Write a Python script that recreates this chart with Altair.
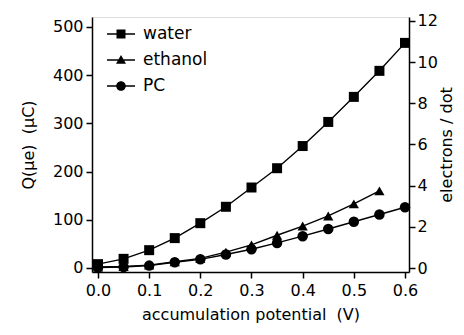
import altair as alt
import pandas as pd

potential = [0.0, 0.05, 0.1, 0.15, 0.2, 0.25, 0.3, 0.35, 0.4, 0.45, 0.5, 0.55, 0.6]
water = [8, 19, 37, 62, 93, 127, 167, 207, 253, 303, 355, 409, 467]
ethanol = [2, 3, 6, 13, 20, 33, 48, 68, 87, 108, 133, 160]
pc = [1, 2, 5, 12, 18, 28, 39, 52, 66, 81, 96, 111, 126]
series_names = ["water", "ethanol", "PC"]
x_ticks = [0.0, 0.1, 0.2, 0.3, 0.4, 0.5, 0.6]
left_ticks = [0, 100, 200, 300, 400, 500]
right_ticks = [0, 2, 4, 6, 8, 10, 12]

rows = []
for name, vals in zip(series_names, [water, ethanol, pc]):
    for xv, v in zip(potential, vals):
        rows.append({"V": xv, "Q": v, "series": name})
df = pd.DataFrame(rows)
right_df = pd.DataFrame({"e": right_ticks})

FONT = "DejaVu Sans"
FS = 16

xscale = alt.Scale(domain=[-0.0117, 0.6078], nice=False, zero=False)
yscale = alt.Scale(domain=[-8.3, 520.7], nice=False, zero=False)
rscale = alt.Scale(domain=[-0.194, 12.19], nice=False, zero=False)

axis_common = dict(grid=False, domainColor="black", domainWidth=1.5,
                   tickColor="black", tickWidth=1.5, tickSize=6,
                   labelFont=FONT, labelFontSize=FS, labelColor="black",
                   titleFont=FONT, titleFontSize=FS, titleColor="black",
                   titleFontWeight="normal")

xaxis = alt.Axis(values=x_ticks, format=".1f",
                 title="accumulation potential\u00a0 (V)",
                 labelPadding=4, titlePadding=8, **axis_common)
yaxis = alt.Axis(values=left_ticks, format="d",
                 title="Q(\u03bce)\u00a0 (\u03bcC)",
                 labelPadding=3, titlePadding=16, **axis_common)
raxis = alt.Axis(values=right_ticks, format="d", orient="right",
                 title="electrons / dot", titleAngle=270,
                 labelPadding=2, titlePadding=17, **axis_common)

x = alt.X("V:Q", scale=xscale, axis=xaxis)
y = alt.Y("Q:Q", scale=yscale, axis=yaxis)

lines = alt.Chart(df).mark_line(color="black", strokeWidth=1.4).encode(
    x=x, y=y, detail="series:N", order="V:Q")

points = alt.Chart(df).mark_point(filled=True, color="black", opacity=1).encode(
    x=x, y=y,
    shape=alt.Shape("series:N", scale=alt.Scale(domain=series_names,
                    range=["square", "triangle-up", "circle"]), legend=None),
    size=alt.Size("series:N", scale=alt.Scale(domain=series_names,
                  range=[100, 110, 80]), legend=None),
)

legend_paths = [
    "M-1.4,-0.07H1.4V0.07H-1.4ZM-0.45,-0.45H0.45V0.45H-0.45Z",
    "M-1.4,-0.07H1.4V0.07H-1.4ZM0,-0.5L0.5,0.38H-0.5Z",
    "M-1.4,-0.07H1.4V0.07H-1.4ZM-0.48,0A0.48,0.48 0 1,1 0.48,0A0.48,0.48 0 1,1 -0.48,0Z",
]

legend_layer = alt.Chart(df).mark_point(
    filled=True, color="black", opacity=0
).encode(
    x=x, y=y,
    shape=alt.Shape("series:N", scale=alt.Scale(domain=series_names, range=legend_paths),
                    legend=alt.Legend(orient="none", legendX=19, legendY=7, title=None,
                                      labelFont=FONT, labelFontSize=17, labelColor="black",
                                      symbolSize=400, symbolStrokeWidth=0,
                                      symbolFillColor="black",
                                      symbolOpacity=1, rowPadding=8, labelOffset=12,
                                      padding=0)),
)

inner = alt.layer(lines, points, legend_layer).resolve_scale(shape="independent", size="independent")

right = alt.Chart(right_df).mark_point(opacity=0).encode(
    y=alt.Y("e:Q", scale=rscale, axis=raxis))

chart = alt.layer(inner, right).resolve_scale(y="independent").properties(
    width=317, height=255,
    padding={"left": 84, "top": 9, "right": 47, "bottom": 54},
    autosize=alt.AutoSizeParams(type="none"),
).configure_view(stroke="black", strokeWidth=1.5).configure(background="white")

chart.save("out.html", embed_options={"renderer": "svg", "actions": False})
